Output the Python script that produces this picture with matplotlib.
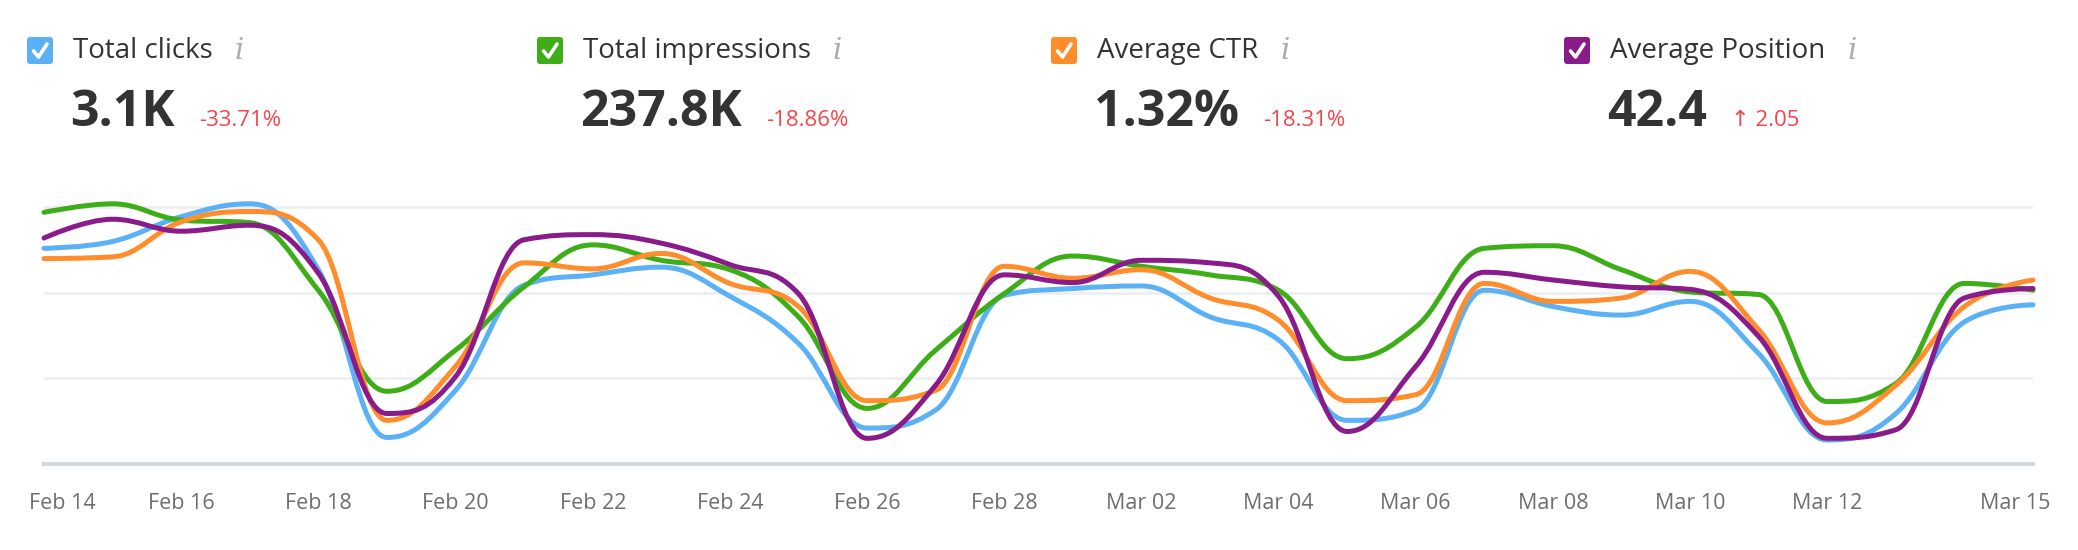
import numpy as np
import matplotlib.pyplot as plt
from matplotlib.path import Path
from matplotlib.patches import PathPatch, FancyBboxPatch
from matplotlib.lines import Line2D
from matplotlib.transforms import IdentityTransform, ScaledTranslation

W, H = 2078, 550

days = ["Feb 14", "Feb 15", "Feb 16", "Feb 17", "Feb 18", "Feb 19", "Feb 20", "Feb 21",
        "Feb 22", "Feb 23", "Feb 24", "Feb 25", "Feb 26", "Feb 27", "Feb 28", "Mar 01",
        "Mar 02", "Mar 03", "Mar 04", "Mar 05", "Mar 06", "Mar 07", "Mar 08", "Mar 09",
        "Mar 10", "Mar 11", "Mar 12", "Mar 13", "Mar 14", "Mar 15"]

# relative values (each metric has its own hidden scale)
clicks = [2.52, 2.60, 2.89, 3.04, 2.27, 0.31, 0.86, 2.09, 2.21, 2.30, 1.96, 1.41, 0.42, 0.63, 1.97,
          2.05, 2.08, 1.72, 1.45, 0.51, 0.63, 2.03, 1.84, 1.74, 1.90, 1.29, 0.28, 0.59, 1.66, 1.86]
impressions = [2.94, 3.04, 2.85, 2.82, 2.03, 0.85, 1.33, 2.07, 2.56, 2.38, 2.27, 1.72, 0.65, 1.33, 1.99,
               2.43, 2.31, 2.21, 2.03, 1.23, 1.60, 2.52, 2.55, 2.27, 2.01, 1.98, 0.73, 0.94, 2.11, 2.03]
ctr = [2.40, 2.42, 2.83, 2.95, 2.62, 0.51, 1.14, 2.35, 2.28, 2.46, 2.11, 1.84, 0.74, 0.86, 2.31,
       2.17, 2.27, 1.94, 1.68, 0.74, 0.81, 2.11, 1.90, 1.94, 2.25, 1.57, 0.48, 0.92, 1.84, 2.15]
position = [2.64, 2.86, 2.72, 2.79, 2.23, 0.59, 1.02, 2.62, 2.68, 2.58, 2.33, 1.99, 0.30, 0.92, 2.21,
            2.12, 2.38, 2.35, 1.96, 0.38, 1.14, 2.24, 2.15, 2.07, 2.04, 1.49, 0.30, 0.40, 1.94, 2.05]

names = ["Total clicks", "Total impressions", "Average CTR", "Average Position"]
totals = ["3.1K", "237.8K", "1.32%", "42.4"]
changes = ["-33.71%", "-18.86%", "-18.31%", "\u2191 2.05"]
colors = ["#5bb1f5", "#3dad18", "#ff8d2b", "#891b8b"]
series = [clicks, impressions, ctr, position]

tick_days = list(range(0, 28, 2)) + [29]


def spline(xs, ys, smooth=1.5):
    # highcharts style spline: bezier through each point
    n = len(xs)
    den = smooth + 1
    lc = [None] * n
    rc = [None] * n
    for i in range(1, n - 1):
        px, py = xs[i], ys[i]
        lx, ly = xs[i - 1], ys[i - 1]
        nx, ny = xs[i + 1], ys[i + 1]
        lcx, lcy = (smooth * px + lx) / den, (smooth * py + ly) / den
        rcx, rcy = (smooth * px + nx) / den, (smooth * py + ny) / den
        corr = (rcy - lcy) * (rcx - px) / (rcx - lcx) + py - rcy
        lcy += corr
        rcy += corr
        if lcy > max(ly, py):
            lcy = max(ly, py); rcy = 2 * py - lcy
        elif lcy < min(ly, py):
            lcy = min(ly, py); rcy = 2 * py - lcy
        if rcy > max(py, ny):
            rcy = max(py, ny); lcy = 2 * py - rcy
        elif rcy < min(py, ny):
            rcy = min(py, ny); lcy = 2 * py - rcy
        lc[i] = (lcx, lcy)
        rc[i] = (rcx, rcy)
    verts = [(xs[0], ys[0])]
    codes = [Path.MOVETO]
    for i in range(1, n):
        c1 = rc[i - 1] if rc[i - 1] else (xs[i - 1], ys[i - 1])
        c2 = lc[i] if lc[i] else (xs[i], ys[i])
        verts += [c1, c2, (xs[i], ys[i])]
        codes += [Path.CURVE4] * 3
    return Path(verts, codes)


plt.rcParams['font.family'] = ['Open Sans', 'DejaVu Sans']

fig = plt.figure(figsize=(W / 100, H / 100), dpi=100)
ax = fig.add_axes([44 / W, 86 / H, (2033 - 44) / W, (464 - 173) / H])
ax.set_xlim(0, len(days) - 1)
ax.set_ylim(0, 3.4)

for v in [1, 2, 3]:
    ax.axhline(v, color="#eceff1", lw=2, zorder=0)
ax.axhline(0, color="#d2d8db", lw=3, zorder=0, clip_on=False)

x = np.arange(len(days))
for vals, c in zip(series, colors):
    p = PathPatch(spline(x, vals), fill=False, edgecolor=c, lw=3.6,
                  capstyle='round', joinstyle='round', clip_on=False, zorder=3)
    ax.add_patch(p)

for s in ax.spines.values():
    s.set_visible(False)
ax.set_yticks([])
ax.set_xticks(tick_days)
ax.set_xticklabels([days[i] for i in tick_days], fontsize=15.5, color="#6e6e6e")
ax.tick_params(axis='x', length=0, pad=21)
labs = ax.get_xticklabels()
labs[0].set_transform(labs[0].get_transform() + ScaledTranslation(0.18, 0, fig.dpi_scale_trans))
labs[-1].set_transform(labs[-1].get_transform() + ScaledTranslation(-0.18, 0, fig.dpi_scale_trans))

# header
idt = IdentityTransform()
group_x = [27, 537, 1051, 1564]
fig.canvas.draw()
rend = fig.canvas.get_renderer()
for gx, name, tot, ch, c in zip(group_x, names, totals, changes, colors):
    box = FancyBboxPatch((gx, H - 64), 26, 27, boxstyle="round,pad=0,rounding_size=3",
                         transform=idt, facecolor=c, edgecolor='none')
    fig.add_artist(box)
    chk = Line2D([gx + 6.5, gx + 11.5, gx + 20], [H - 51, H - 57, H - 44],
                 transform=idt, color='white', lw=2.6, solid_capstyle='round',
                 solid_joinstyle='round')
    fig.add_artist(chk)
    t = fig.text(gx + 46, H - 51, name, transform=idt, fontsize=20, color="#333333",
                 va='center', ha='left')
    big = fig.text(gx + 43, H - 126, tot, transform=idt, fontsize=36, color="#333333",
                   fontweight='bold', va='baseline', ha='left')
    ext = t.get_window_extent(rend)
    fig.text(ext.x1 + 22, H - 51, "i", transform=idt, fontsize=21, color="#a6aeb3",
             family='DejaVu Serif', style='italic', va='center', ha='left')
    bext = big.get_window_extent(rend)
    fig.text(bext.x1 + 24, H - 126, ch, transform=idt, fontsize=16, color="#f2464d",
             va='baseline', ha='left')

fig.savefig("out.png", dpi=100)
